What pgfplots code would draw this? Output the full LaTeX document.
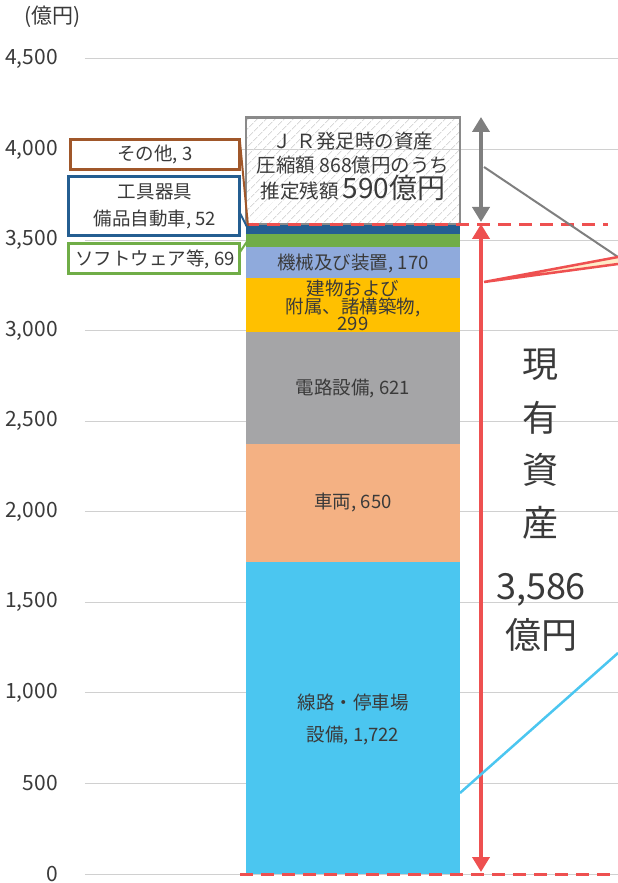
\documentclass[border=0pt]{standalone}
\usepackage{pgfplots}
\pgfplotsset{compat=1.18}
\usepackage{fontspec}
\setmainfont{Noto Sans CJK JP}
\usetikzlibrary{patterns.meta,arrows.meta}
\definecolor{c1}{HTML}{4BC6F0}
\definecolor{c2}{HTML}{F4B183}
\definecolor{c3}{HTML}{A5A5A7}
\definecolor{c4}{HTML}{FFC000}
\definecolor{c5}{HTML}{8FAADC}
\definecolor{c6}{HTML}{70AD47}
\definecolor{c7}{HTML}{245E91}
\definecolor{c8}{HTML}{A0572A}
\definecolor{redl}{HTML}{EE5050}
\definecolor{grayl}{HTML}{7F7F7F}
\definecolor{gridc}{HTML}{D0D0D0}
\definecolor{txt}{HTML}{3A3A3A}
\definecolor{wedge}{HTML}{FFEBC8}
\definecolor{hatchb}{HTML}{8A8A8A}
\begin{document}
\begin{tikzpicture}
\begin{axis}[
  at={(0,0)}, anchor=south west,
  scale only axis, width=533pt, height=815pt,
  xmin=0, xmax=533, ymin=0, ymax=4500,
  enlargelimits=false,
  ybar stacked, bar width=214pt,
  xtick=\empty,
  ytick={0,500,...,4500},
  scaled y ticks=false,
  ymajorgrids, grid style={draw=gridc, line width=1pt},
  axis line style={draw=none},
  major tick length=0pt,
  /pgf/number format/1000 sep={,},
  /pgf/number format/assume math mode=true,
  yticklabel style={font=\fontsize{21}{24}\selectfont, text=txt, inner sep=0pt, anchor=east, xshift=-27pt},
  clip=false,
]
\addplot[fill=c1, draw=none] coordinates {(268,1722)};
\addplot[fill=c2, draw=none] coordinates {(268,650)};
\addplot[fill=c3, draw=none] coordinates {(268,621)};
\addplot[fill=c4, draw=none] coordinates {(268,299)};
\addplot[fill=c5, draw=none] coordinates {(268,170)};
\addplot[fill=c6, draw=none] coordinates {(268,69)};
\addplot[fill=c7, draw=none] coordinates {(268,52)};
\addplot[fill=c8, draw=none] coordinates {(268,3)};
\addplot[pattern={Lines[angle=45,distance=6.5pt,line width=1pt]}, pattern color=gray!30, draw=hatchb, line width=2.5pt] coordinates {(268,590)};
\end{axis}
\begin{scope}[x=1pt,y=-1pt,shift={(-85pt,874pt)}]
% segment labels
\begin{scope}[every node/.style={text=txt, align=center, font=\fontsize{18.5}{32}\selectfont}]
\node at (353,719) {線路・停車場\\設備, 1,722};
\node at (353,503) {車両, 650};
\node at (353,388) {電路設備, 621};
\node[font=\fontsize{18.5}{17}\selectfont] at (353,305) {建物および\\附属、諸構築物,\\299};
\node at (353,263) {機械及び装置, 170};
\end{scope}
\node[text=txt, align=center, font=\fontsize{19.5}{24}\selectfont] at (353,166) {Ｊ Ｒ発足時の資産\\圧縮額 868億円のうち\\推定残額 {\fontsize{28}{24}\selectfont 590億円}};
% dashed red lines
\draw[redl, line width=3pt, dash pattern=on 13pt off 8pt] (246,225) -- (608,225);
\draw[redl, line width=3pt, dash pattern=on 13pt off 8pt] (240,874) -- (613,874);
% arrows
\draw[redl, line width=4pt, {Triangle[width=17pt,length=15pt]}-{Triangle[width=17pt,length=15pt]}] (481,872) -- (481,224);
\draw[grayl, line width=4pt, {Triangle[width=17pt,length=15pt]}-{Triangle[width=17pt,length=15pt]}] (481,117) -- (481,222);
% connector lines to the right
\draw[grayl, line width=2pt] (484,167) -- (618,257);
\fill[wedge] (484,282) -- (618,257) -- (618,264) -- cycle;
\draw[redl, line width=2.5pt] (618,257) -- (484,282) -- (618,264);
\draw[c1, line width=2.5pt] (460,793) -- (618,653);
% big text
\begin{scope}[every node/.style={text=txt, font=\fontsize{36}{40}\selectfont}]
\node at (540,365) {現};
\node at (540,418) {有};
\node at (540,470) {資};
\node at (540,523) {産};
\node at (541,590) {3,586};
\node at (541,635) {億円};
\end{scope}
% callout boxes
\draw[c8, line width=2pt] (240,142) -- (248,226);
\draw[c7, line width=2pt] (240,213) -- (248,229);
\draw[c6, line width=2pt] (240,252) -- (248,240);
\draw[c8, line width=3pt, fill=white] (71,140) rectangle (239,170);
\draw[c7, line width=3pt, fill=white] (69,177) rectangle (239,236);
\draw[c6, line width=3pt, fill=white] (69,244) rectangle (239,274);
\begin{scope}[every node/.style={text=txt, align=center, font=\fontsize{18.5}{27}\selectfont}]
\node at (155,155) {その他, 3};
\node at (155,206) {工具器具\\備品自動車, 52};
\node at (155,259) {ソフトウェア等, 69};
\end{scope}
\node[text=txt, font=\fontsize{21}{24}\selectfont] at (53,17) {(億円)};
\pgfresetboundingbox
\path[use as bounding box] (0,0) rectangle (618,883);
\end{scope}
\end{tikzpicture}
\end{document}
